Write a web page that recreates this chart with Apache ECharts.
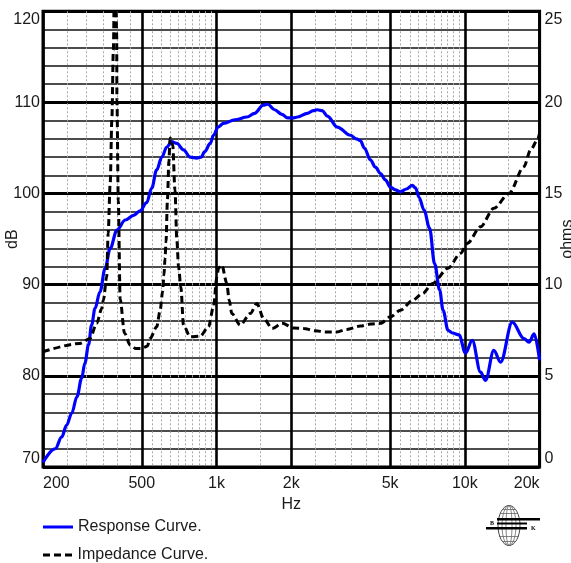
<!DOCTYPE html>
<html>
<head>
<meta charset="utf-8">
<script src="https://cdn.jsdelivr.net/npm/echarts@6/dist/echarts.min.js"></script>
<style>
  html, body { margin: 0; padding: 0; background: #fff; }
  #chart { width: 571px; height: 563px; }
</style>
</head>
<body>
<div id="chart"></div>
<script>
// Frequency response (dB SPL) of the driver, sampled along the log frequency axis
const responseFreq = [200, 224, 238, 249, 261, 274, 286, 295, 305, 314, 324, 339, 356, 373, 397, 429, 463, 492, 523, 548, 574, 602, 630, 660, 692, 736, 783, 833, 867, 896, 943, 972, 1015, 1067, 1185, 1326, 1422, 1542, 1608, 1713, 1831, 1934, 2027, 2120, 2320, 2452, 2543, 2665, 2794, 3065, 3459, 3657, 3796, 3939, 4165, 4362, 4571, 4787, 5015, 5251, 5503, 5817, 6145, 6335, 6539, 6847, 7210, 7555, 7916, 8170, 8555, 8914, 9470, 10060, 10710, 11567, 12110, 13084, 13927, 15524, 17288, 18130, 19020, 20000];
const responseDb = [70.5, 72.0, 73.3, 74.6, 75.9, 77.7, 79.7, 81.4, 83.4, 85.6, 87.4, 89.2, 91.8, 94.0, 96.0, 97.1, 97.6, 98.1, 99.0, 100.6, 102.6, 104.0, 105.1, 105.7, 105.5, 104.8, 104.0, 103.9, 104.0, 104.6, 105.5, 106.4, 107.3, 107.7, 108.1, 108.4, 108.8, 109.7, 109.8, 109.2, 108.7, 108.3, 108.3, 108.4, 108.8, 109.1, 109.2, 109.1, 108.5, 107.3, 106.4, 106.0, 105.8, 105.0, 103.7, 102.9, 102.2, 101.5, 100.7, 100.4, 100.2, 100.5, 100.9, 100.6, 99.6, 98.2, 96.2, 92.3, 89.4, 87.2, 85.0, 84.7, 84.5, 82.5, 83.9, 80.4, 79.5, 82.8, 81.5, 85.9, 84.1, 83.7, 84.6, 81.7];

// Impedance magnitude (ohms); the resonance peak runs above the top of the scale
const impedanceFreq = [200, 282, 309, 329, 345, 350, 361, 366, 373, 379, 384, 390, 396, 397, 402, 409, 426, 449, 474, 501, 526, 540, 574, 593, 606, 614, 620, 626, 634, 643, 650, 666, 680, 692, 703, 718, 736, 783, 859, 928, 972, 1003, 1018, 1050, 1100, 1124, 1152, 1246, 1367, 1453, 1548, 1675, 1837, 2044, 2240, 2502, 2745, 3051, 3344, 3796, 4165, 4571, 5015, 5503, 6165, 6760, 7418, 8555, 9607, 10240, 11567, 13084, 15067, 17288, 18400, 19600, 20000];
const impedanceOhm = [6.32, 6.78, 7.05, 7.88, 8.7, 9.15, 10.43, 12.83, 15.58, 19.2, 22.88, 30, 23.8, 20.1, 14.6, 9.2, 7.34, 6.68, 6.5, 6.5, 6.63, 7.05, 7.69, 8.6, 9.61, 10.53, 11.44, 12.35, 14.64, 16.84, 18.05, 17.66, 15.2, 12.45, 10.98, 9.88, 7.78, 7.14, 7.18, 7.69, 8.79, 10.43, 10.9, 11.08, 10.07, 9.16, 8.42, 7.78, 8.42, 8.97, 8.15, 7.6, 7.88, 7.63, 7.6, 7.47, 7.41, 7.41, 7.55, 7.73, 7.84, 7.88, 8.24, 8.6, 9.15, 9.52, 10.07, 10.9, 11.72, 12.27, 13.18, 14.19, 15.01, 16.47, 17.39, 17.94, 18.32];

// Labelled frequency grid and the finer dotted frequency grid
const majorFreqTicks = [200, 500, 1000, 2000, 5000, 10000, 20000];
const minorFreqTicks = [250, 300, 350, 400, 450, 550, 600, 650, 700, 750, 800, 850, 900, 950, 1500, 2500, 3000, 3500, 4000, 4500, 5500, 6000, 6500, 7000, 7500, 8000, 8500, 9000, 9500, 15000];

const seriesNames = ['Response Curve.', 'Impedance Curve.'];

const FONT = '"Liberation Sans", Arial, sans-serif';
const TEXT_COLOR = '#1a1a1a';
const TICK_SIZE = 16;

function pairs(xs, ys) {
  return xs.map((x, i) => [x, ys[i]]);
}

function freqLabel(v) {
  return v >= 1000 ? (v / 1000) + 'k' : String(v);
}

// one legend row per curve, stacked under the plot
function legendRow(top, item) {
  return {
    orient: 'vertical',
    left: 43, top: top,
    padding: 0,
    itemWidth: 30, itemHeight: 3,
    data: [item],
    textStyle: { fontFamily: FONT, fontSize: 16, color: TEXT_COLOR }
  };
}

const chart = echarts.init(document.getElementById('chart'), null, { renderer: 'canvas' });

const option = {
  animation: false,
  backgroundColor: '#fff',
  textStyle: { fontFamily: FONT },
  grid: {
    left: 43, right: 31.4, top: 11.3, bottom: 96,
    outerBoundsMode: 'none',
    containLabel: false,
    show: true, borderColor: '#000', borderWidth: 3, backgroundColor: 'transparent'
  },
  legend: [
    legendRow(519, { name: seriesNames[0], icon: 'rect', itemStyle: { color: '#0000ff' } }),
    legendRow(547, { name: seriesNames[1], icon: 'path://M0,0H7V3H0Z M11,0H18V3H11Z M22,0H29V3H22Z', itemStyle: { color: '#000' } })
  ],
  xAxis: [
    {
      type: 'log', logBase: 10, min: 200, max: 20000,
      name: 'Hz', nameLocation: 'middle', nameGap: 25,
      nameTextStyle: { fontFamily: FONT, fontSize: TICK_SIZE, color: TEXT_COLOR },
      axisLine: { show: false },
      axisTick: { show: false, customValues: majorFreqTicks },
      axisLabel: {
        customValues: majorFreqTicks, formatter: freqLabel,
        margin: 9, fontFamily: FONT, fontSize: TICK_SIZE, color: TEXT_COLOR,
        alignMinLabel: 'left', alignMaxLabel: 'right'
      },
      splitLine: { show: true, lineStyle: { color: '#000', width: 2.6 } }
    },
    {
      type: 'log', logBase: 10, min: 200, max: 20000,
      position: 'bottom',
      axisLine: { show: false },
      axisTick: { show: false, customValues: minorFreqTicks },
      axisLabel: { show: false, customValues: minorFreqTicks },
      splitLine: { show: true, lineStyle: { color: '#a8a8a8', width: 1, type: [2, 2] } },
      z: 0
    }
  ],
  yAxis: [
    {
      type: 'value', min: 70, max: 120, interval: 2,
      name: 'dB', nameLocation: 'middle', nameRotate: 90, nameGap: 22,
      nameMoveOverlap: false,
      nameTextStyle: { fontFamily: FONT, fontSize: TICK_SIZE, color: TEXT_COLOR },
      axisLine: { show: false },
      axisTick: { show: false },
      axisLabel: {
        formatter: v => (v % 10 === 0 ? String(v) : ''),
        margin: 3, fontFamily: FONT, fontSize: TICK_SIZE, color: TEXT_COLOR,
        verticalAlignMaxLabel: 'top', verticalAlignMinLabel: 'bottom'
      },
      splitLine: { show: true, lineStyle: { color: '#111', width: 1.6 } }
    },
    {
      type: 'value', min: 0, max: 25, interval: 5, position: 'right',
      name: 'ohms', nameLocation: 'middle', nameRotate: 90, nameGap: 20,
      nameMoveOverlap: false,
      nameTextStyle: { fontFamily: FONT, fontSize: TICK_SIZE, color: TEXT_COLOR },
      axisLine: { show: false },
      axisTick: { show: false },
      axisLabel: {
        margin: 5, fontFamily: FONT, fontSize: TICK_SIZE, color: TEXT_COLOR,
        verticalAlignMaxLabel: 'top', verticalAlignMinLabel: 'bottom'
      },
      splitLine: { show: true, lineStyle: { color: '#000', width: 2.8 } }
    }
  ],
  series: [
    {
      name: seriesNames[0],
      type: 'line',
      xAxisIndex: 0, yAxisIndex: 0,
      data: pairs(responseFreq, responseDb),
      symbol: 'none',
      smooth: 0.35,
      smoothMonotone: 'x',
      lineStyle: { color: '#0000ff', width: 3.2 },
      itemStyle: { color: '#0000ff' },
      z: 3
    },
    {
      name: seriesNames[1],
      type: 'line',
      xAxisIndex: 0, yAxisIndex: 1,
      data: pairs(impedanceFreq, impedanceOhm),
      symbol: 'none',
      smooth: 0.3,
      smoothMonotone: 'x',
      clip: true,
      lineStyle: { color: '#000', width: 3, type: [7, 4] },
      itemStyle: { color: '#000' },
      z: 4
    }
  ],
  graphic: [
    {
      // manufacturer globe badge
      type: 'group',
      left: 486, top: 503,
      children: [
        { type: 'ellipse', shape: { cx: 24, cy: 20, rx: 11, ry: 20 }, style: { fill: 'none', stroke: '#444', lineWidth: 1 } },
        { type: 'ellipse', shape: { cx: 24, cy: 20, rx: 7, ry: 20 }, style: { fill: 'none', stroke: '#666', lineWidth: 0.8 } },
        { type: 'ellipse', shape: { cx: 24, cy: 20, rx: 3, ry: 20 }, style: { fill: 'none', stroke: '#666', lineWidth: 0.8 } },
        { type: 'line', shape: { x1: 15, y1: 8, x2: 33, y2: 8 }, style: { stroke: '#666', lineWidth: 0.8 } },
        { type: 'line', shape: { x1: 14, y1: 31, x2: 34, y2: 31 }, style: { stroke: '#666', lineWidth: 0.8 } },
        { type: 'line', shape: { x1: 17, y1: 4, x2: 31, y2: 4 }, style: { stroke: '#666', lineWidth: 0.8 } },
        { type: 'line', shape: { x1: 17, y1: 36, x2: 31, y2: 36 }, style: { stroke: '#666', lineWidth: 0.8 } },
        { type: 'rect', shape: { x: 12, y: 12.5, width: 43, height: 2.5 }, style: { fill: '#000' } },
        { type: 'rect', shape: { x: 12, y: 17, width: 30, height: 2 }, style: { fill: '#000' } },
        { type: 'rect', shape: { x: 1, y: 21.5, width: 41, height: 2.5 }, style: { fill: '#000' } },
        { type: 'text', style: { x: 5, y: 14.5, text: 'B', fontSize: 6, fontWeight: 'bold', fill: '#000', fontFamily: 'Liberation Serif, serif' } },
        { type: 'text', style: { x: 46, y: 20, text: 'K', fontSize: 6, fontWeight: 'bold', fill: '#000', fontFamily: 'Liberation Serif, serif' } }
      ]
    }
  ]
};

chart.setOption(option);
</script>
</body>
</html>
